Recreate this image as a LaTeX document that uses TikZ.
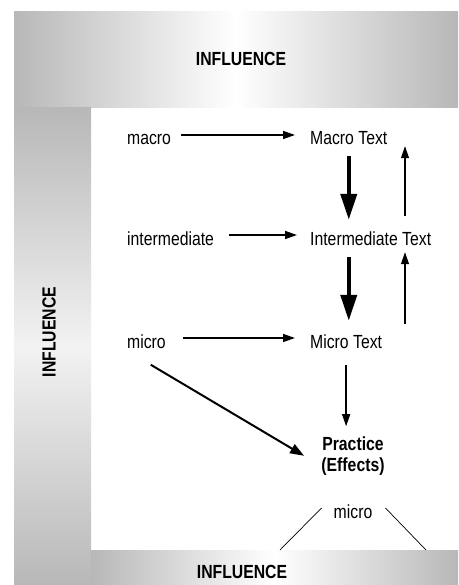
\documentclass[tikz,border=0pt]{standalone}
\usepackage{fontspec}
\setmainfont[FakeStretch=0.83]{Liberation Sans}
\usetikzlibrary{arrows.meta,calc}
\colorlet{bandgray}{black!28}

\begin{document}
\begin{tikzpicture}[x=1pt, y=-1pt,
    every node/.style={font=\fontsize{19}{22}\selectfont, inner sep=0pt},
    lbl/.style={text height=20pt, text depth=0pt, anchor=base west},
    bandtxt/.style={font=\fontsize{19}{22}\selectfont\bfseries},
    thinarrow/.style={-{Triangle[length=12pt,width=8pt]}, line width=1.5pt},
    bigarrow/.style={-{Triangle[length=26pt,width=16pt]}, line width=4pt}]
  \useasboundingbox (0,0) rectangle (458,585);

  % Influence bands
  \shade[left color=bandgray, right color=bandgray, middle color=white] (14,12) rectangle (458,108);
  \shade[top color=bandgray, bottom color=bandgray, middle color=black!5] (14,108) rectangle (91,585);
  \shade[left color=bandgray, right color=bandgray, middle color=white] (91,550) rectangle (458,585);
  \node[bandtxt] (inftop) at (241,59) {INFLUENCE};
  \node[bandtxt, rotate=90] (infleft) at (49,332) {INFLUENCE};
  \node[bandtxt] (infbot) at (242,572) {INFLUENCE};

  % Three levels
  \foreach \nm/\y/\a/\b/\src/\dst in {macro/145/10/15/macro/Macro Text,
      inter/245/15/13/intermediate/Intermediate Text,
      micro/348/17/15/micro/Micro Text}{
    \node[lbl] (\nm) at (127,\y) {\src};
    \node[lbl] (\nm-t) at (310,\y) {\dst};
    \draw[thinarrow, shorten <=\a pt, shorten >=\b pt] (\nm) -- (\nm-t);
  }

  % Down and up between texts
  \coordinate (rail) at (405,0);
  \draw[bigarrow, shorten <=11pt, shorten >=5pt] (macro-t.south) -- (macro-t.south |- inter-t.north);
  \draw[bigarrow, shorten <=12pt, shorten >=7pt] (macro-t.south |- inter-t.south) -- (macro-t.south |- micro-t.north);
  \draw[thinarrow, line width=1.2pt, shorten <=9pt, shorten >=1pt] (rail |- inter-t.north) -- (rail |- macro-t.south);
  \draw[thinarrow, line width=1.2pt, shorten <=4pt, shorten >=7pt] (rail |- micro-t.north) -- (rail |- inter-t.south);

  % Practice
  \node[bandtxt, font=\fontsize{19}{21.5}\selectfont\bfseries, align=center] (practice) at (353,456) {Practice\\(Effects)};
  \draw[thinarrow, line width=1.3pt, shorten <=17pt, shorten >=10pt] (micro-t.south) -- (micro-t.south |- practice.north);
  \draw[-{Triangle[length=14pt,width=10pt]}, line width=2pt, shorten <=5pt, shorten >=20pt]
    ([yshift=-14pt]micro.south) -- ([yshift=-10pt]practice.west);

  \node[lbl, anchor=base] (microbot) at (353,518) {micro};
  \coordinate (legL) at (280,550);
  \coordinate (legR) at (426,550);
  \draw[line width=0.7pt] (legL) -- ([xshift=-12pt]microbot.west);
  \draw[line width=0.7pt] (legR) -- ([xshift=13pt]microbot.east);
\end{tikzpicture}
\end{document}
